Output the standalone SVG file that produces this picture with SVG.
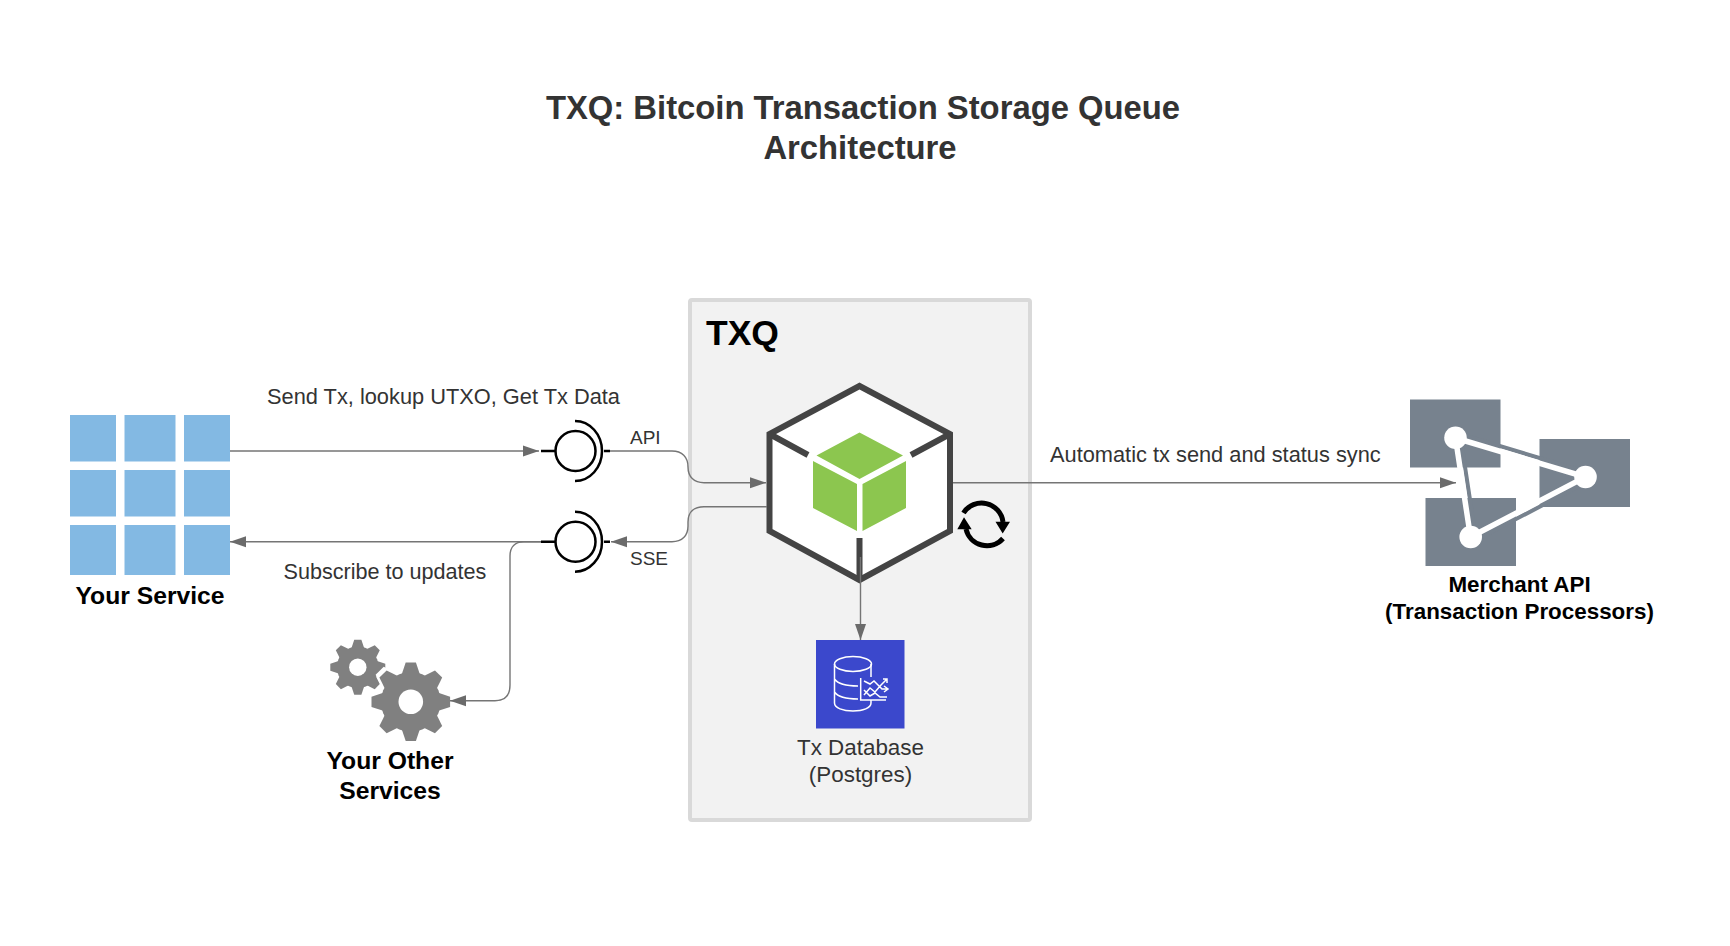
<svg xmlns="http://www.w3.org/2000/svg" xmlns:xlink="http://www.w3.org/1999/xlink" width="1730" height="946" viewBox="0 0 1730 946">
<style>
text{font-family:"Liberation Sans",Arial,sans-serif;fill:#333}
.b{font-weight:700;fill:#000}
.c{text-anchor:middle}
.l{font-size:21.8px}
.n{font-size:24.7px}
.m{font-size:22.4px}
.conn{fill:none;stroke:#757575;stroke-width:1.4}
.sock{fill:none;stroke:#000;stroke-width:2.5}
.tile{fill:#83b9e3}
.mr{fill:#77828e}
</style>
<defs>
<marker id="ah" markerUnits="userSpaceOnUse" markerWidth="17" markerHeight="12" refX="16" refY="6" orient="auto"><path d="M0 .5L16 6L0 11.5z" fill="#6b6b6b"/></marker>
<g id="gear"><circle r="76"/><g id="t"><path id="t0" d="M-13-100H13L23-70H-23z"/><use xlink:href="#t0" transform="rotate(45)"/><use xlink:href="#t0" transform="rotate(90)"/><use xlink:href="#t0" transform="rotate(135)"/></g><use xlink:href="#t" transform="rotate(180)"/></g>
</defs>
<rect width="1730" height="946" fill="#fff"/>
<g id="title"><text class="c" x="863" y="119" font-size="32.800" font-weight="700">TXQ: Bitcoin Transaction Storage Queue</text><text class="c" x="860" y="158.500" font-size="32.800" font-weight="700">Architecture</text></g>
<g id="txq"><rect x="690" y="300" width="340" height="520" rx="2" fill="#f2f2f2" stroke="#d9d9d9" stroke-width="4"/><text class="b" x="706" y="344.500" font-size="35.500">TXQ</text></g>
<g id="your-service">
<rect class="tile" x="70" y="415" width="46" height="46.500"/><rect class="tile" x="124.500" y="415" width="51" height="46.500"/><rect class="tile" x="184" y="415" width="46" height="46.500"/>
<rect class="tile" x="70" y="470" width="46" height="46.500"/><rect class="tile" x="124.500" y="470" width="51" height="46.500"/><rect class="tile" x="184" y="470" width="46" height="46.500"/>
<rect class="tile" x="70" y="525" width="46" height="50"/><rect class="tile" x="124.500" y="525" width="51" height="50"/><rect class="tile" x="184" y="525" width="46" height="50"/>
<text class="b c n" x="150" y="604">Your Service</text></g>
<g id="other-services" fill="#808080">
<use xlink:href="#gear" transform="translate(357.800 667.200) scale(.275)"/>
<use xlink:href="#gear" transform="translate(410.800 701.800) scale(.44)" fill="#fff"/>
<use xlink:href="#gear" transform="translate(410.800 701.800) scale(.393)"/>
<circle cx="357.800" cy="667.200" r="8.700" fill="#fff"/><circle cx="410.800" cy="701.800" r="12.300" fill="#fff"/>
<text class="b c n" x="390" y="769">Your Other</text><text class="b c n" x="390" y="799">Services</text></g>
<g id="socket-api"><circle class="sock" cx="575.500" cy="451" r="20"/><path class="sock" d="M575 421A27 30 0 0 1 575 481M541 451H555M604 451H610"/></g>
<g id="socket-sse"><circle class="sock" cx="575.500" cy="541.700" r="20"/><path class="sock" d="M575 511.700A27 30 0 0 1 575 571.700M541 541.700H555M604 541.700H610"/></g>
<g id="queue">
<path d="M859.500 386L950 434V531L859.500 580L769.500 531V434z" fill="#fff" stroke="#444" stroke-width="6" stroke-linejoin="miter"/>
<path d="M769.500 434L808 455M950 434L911 455M859.500 538V580" fill="none" stroke="#444" stroke-width="6"/>
<path d="M859.500 432.500L903 455.500L859.500 479L816.500 455.500zM813 461L857 484V531L813 508zM862.500 484L906 461V508L862.500 531z" fill="#8cc64f"/>
</g>
<g id="sync" fill="none" stroke="#000" stroke-width="5">
<path d="M963.500 513A21.500 21.500 0 0 1 1003 522M1003 538.500A21.500 21.500 0 0 1 966 529"/>
<path d="M995.500 521.700H1010L1002.700 533.500zM957.300 529.300H971.700L964 517.300z" fill="#000" stroke="none"/>
</g>
<g id="database"><rect x="816" y="640" width="88.500" height="88.500" fill="#3b48cc"/>
<g fill="none" stroke="#fff" stroke-width="1.500"><ellipse cx="853" cy="664" rx="18.500" ry="7.500"/><path d="M834.500 664V703C834.500 708 843 711 853 711S871 708 871 703V700M871 664V677M834.500 679C838 684 845 686 858 686M834.500 692C838 697 845 699 858 699M860.700 678V700H886M864 681L870 684L874 681L879 686L882 689H888M884 686L888 689L884 692M864 695L870 688L875 692L881 685L887 679M883 679H887V683M864 690L870 696L875 693L880 697H887"/></g>
<text class="c m" x="860.500" y="755">Tx Database</text><text class="c m" x="860.500" y="782">(Postgres)</text></g>
<g id="merchant-api">
<rect class="mr" x="1410" y="399.500" width="90.500" height="68"/><rect class="mr" x="1539.500" y="439" width="90.500" height="68"/><rect class="mr" x="1425.500" y="498" width="90.500" height="68"/>
<path d="M1457 433.200L1587 472.200M1460.500 437L1475.500 536M1473 541.500L1588 481.500" fill="none" stroke="#77828e" stroke-width="4"/>
<path d="M1455.500 438L1585.500 477L1470.500 537z" fill="none" stroke="#fff" stroke-width="5.500"/>
<circle cx="1455.500" cy="437.700" r="11.300" fill="#fff"/><circle cx="1585.500" cy="477" r="11.300" fill="#fff"/><circle cx="1470.700" cy="537" r="11.300" fill="#fff"/>
<text class="b c m" x="1519.500" y="592">Merchant API</text><text class="b c m" x="1519.500" y="619">(Transaction Processors)</text></g>
<g id="connectors">
<path class="conn" d="M230 451H539" marker-end="url(#ah)"/>
<path class="conn" d="M610 451H672C682 451 688 457 688 467C688 477 694 482.700 704 482.700H766" marker-end="url(#ah)"/>
<path class="conn" d="M767 506.700H704C694 506.700 688 512 688 522V526C688 536 682 541.700 672 541.700H611" marker-end="url(#ah)"/>
<path class="conn" d="M541 541.700H230" marker-end="url(#ah)"/>
<path class="conn" d="M541 541.700H524C515 541.700 510 547 510 556V685C510 695 505 700.700 495 700.700H450" marker-end="url(#ah)"/>
<path class="conn" d="M860.500 557V640" marker-end="url(#ah)"/>
<path class="conn" d="M953 482.700H1456" marker-end="url(#ah)"/>
</g>
<g id="labels">
<text class="l" x="267" y="404">Send Tx, lookup UTXO, Get Tx Data</text>
<text x="630" y="444" font-size="19">API</text>
<text x="630" y="565" font-size="19">SSE</text>
<text class="l" x="283.500" y="579" style="font-size:21.6px">Subscribe to updates</text>
<text class="l" x="1050" y="461.500">Automatic tx send and status sync</text>
</g>
</svg>
